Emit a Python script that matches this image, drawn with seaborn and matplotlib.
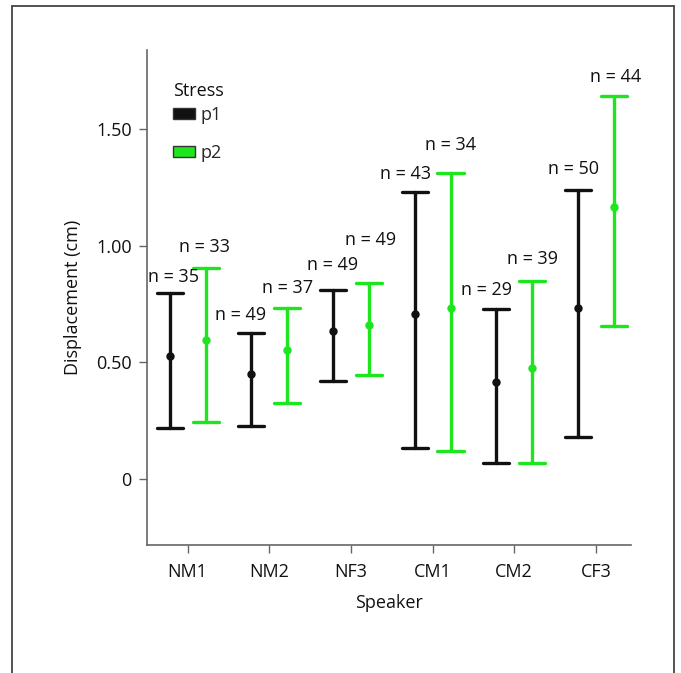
import matplotlib
matplotlib.use("Agg")
import matplotlib.pyplot as plt
from matplotlib.lines import Line2D
from matplotlib.patches import Patch
import seaborn as sns
import pandas as pd

speakers = ["NM1", "NM2", "NF3", "CM1", "CM2", "CF3"]
stress = ["p1", "p2"]

# mean and lower / upper ends of the error bars (cm)
p1_mean = [0.528, 0.449, 0.635, 0.707, 0.417, 0.735]
p1_low = [0.217, 0.229, 0.420, 0.134, 0.070, 0.179]
p1_high = [0.797, 0.628, 0.810, 1.233, 0.728, 1.240]
p2_mean = [0.596, 0.552, 0.662, 0.735, 0.477, 1.168]
p2_low = [0.243, 0.326, 0.445, 0.120, 0.070, 0.656]
p2_high = [0.904, 0.734, 0.840, 1.314, 0.851, 1.643]
p1_n = [35, 49, 49, 43, 29, 50]
p2_n = [33, 37, 49, 34, 39, 44]

# label nudges in pixels (dx, dy above the cap)
p1_nudge = [(4, 16), (-11, 18), (0, 25), (-9, 18), (-10, 19), (-4, 21)]
p2_nudge = [(-1, 21), (0, 20), (2, 43), (0, 28), (0, 22), (2, 19)]

rows = []
for i, s in enumerate(speakers):
    for v in (p1_low[i], p1_mean[i], p1_high[i]):
        rows.append((s, "p1", v))
    for v in (p2_low[i], p2_mean[i], p2_high[i]):
        rows.append((s, "p2", v))
df = pd.DataFrame(rows, columns=["Speaker", "Stress", "value"])

sns.set_theme(style="white")
plt.rcParams["font.family"] = ["Open Sans", "DejaVu Sans"]

black = "#111111"
green = "#1ee61e"
fs = 13

fig = plt.figure(figsize=(6.81, 6.73), dpi=100)
ax = fig.add_axes([147 / 681, 1 - 545 / 673, (631 - 147) / 681, (545 - 50) / 673])

sns.pointplot(data=df, x="Speaker", y="value", hue="Stress", order=speakers,
              hue_order=stress, estimator="median", errorbar=("pi", 100),
              dodge=0.44, linestyle="none", capsize=0.32, markers="o",
              palette={"p1": black, "p2": green}, markersize=4,
              err_kws={"linewidth": 2.4}, ax=ax, legend=False)

px = 72 / 100
for i in range(len(speakers)):
    for off, hi, n, nud in ((-0.22, p1_high[i], p1_n[i], p1_nudge[i]),
                            (0.22, p2_high[i], p2_n[i], p2_nudge[i])):
        ax.annotate(f"n = {n}", (i + off, hi),
                    xytext=(nud[0] * px, nud[1] * px), textcoords="offset points",
                    ha="center", va="center", fontsize=fs, color="#111111")

ax.set_xlim(-0.498, 5.43)
ax.set_ylim(-0.283, 1.84)
ax.set_yticks([0, 0.5, 1.0, 1.5])
ax.set_yticklabels(["0", "0.50", "1.00", "1.50"])
ax.set_xlabel("Speaker", fontsize=fs, color="#111111", labelpad=9)
ax.set_ylabel("Displacement (cm)", fontsize=fs, color="#111111", labelpad=10)
ax.tick_params(axis="both", length=6, width=1, color="#666666",
               labelsize=fs, labelcolor="#111111", pad=5, left=True, bottom=True)
ax.tick_params(axis="x", pad=7)
for side in ("top", "right"):
    ax.spines[side].set_visible(False)
for side in ("left", "bottom"):
    ax.spines[side].set_color("#666666")
    ax.spines[side].set_linewidth(1.2)

# legend: title as separate text so it can sit close to the entries
ax.text(26 / 484, 1 - 41 / 495, "Stress", transform=ax.transAxes,
        ha="left", va="center", fontsize=fs, color="#111111")
handles = [Patch(facecolor=black, edgecolor="#333333", label="p1"),
           Patch(facecolor=green, edgecolor="#333333", label="p2")]
ax.legend(handles=handles, loc="upper left",
          bbox_to_anchor=(26 / 484, 1 - 56 / 495), frameon=False, fontsize=fs,
          handlelength=1.2, handleheight=0.55, handletextpad=0.35,
          labelspacing=1.1, borderaxespad=0, borderpad=0)

# outer frame of the figure panel
fc = "#444444"
fig.add_artist(Line2D([12 / 681, 12 / 681], [0, 1 - 6 / 673], color=fc, lw=1.3))
fig.add_artist(Line2D([674 / 681, 674 / 681], [0, 1 - 6 / 673], color=fc, lw=1.3))
fig.add_artist(Line2D([12 / 681, 674 / 681], [1 - 6 / 673, 1 - 6 / 673], color=fc, lw=1.3))

fig.savefig("out.png", dpi=100)
